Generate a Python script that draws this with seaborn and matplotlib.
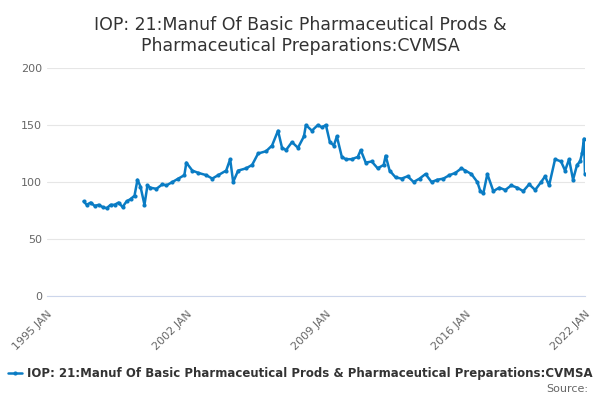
import pandas as pd
import matplotlib.pyplot as plt
import seaborn as sns

# 数据（从图中读取的近似值，时间为小数年份）
years = [1996.85, 1997.0, 1997.2, 1997.4, 1997.6, 1997.8, 1998.0, 1998.2, 1998.4, 1998.6,
         1998.8, 1999.0, 1999.2, 1999.4, 1999.55, 1999.7, 1999.9, 2000.05, 2000.2, 2000.5,
         2000.8, 2001.0, 2001.3, 2001.6, 2001.9, 2002.0, 2002.3, 2002.6, 2003.0, 2003.3,
         2003.6, 2004.0, 2004.2, 2004.35, 2004.6, 2005.0, 2005.3, 2005.6, 2006.0, 2006.3,
         2006.6, 2006.8, 2007.0, 2007.3, 2007.6, 2007.9, 2008.0, 2008.3, 2008.6, 2008.8,
         2009.0, 2009.2, 2009.4, 2009.55, 2009.8, 2010.0, 2010.3, 2010.6, 2010.75, 2011.0,
         2011.3, 2011.6, 2011.9, 2012.0, 2012.2, 2012.5, 2012.8, 2013.1, 2013.4, 2013.7,
         2014.0, 2014.3, 2014.6, 2014.9, 2015.2, 2015.5, 2015.8, 2016.0, 2016.3, 2016.6,
         2016.75, 2016.9, 2017.1, 2017.4, 2017.7, 2018.0, 2018.3, 2018.6, 2018.9, 2019.2,
         2019.5, 2019.8, 2020.0, 2020.2, 2020.5, 2020.8, 2021.0, 2021.2, 2021.4, 2021.6,
         2021.75, 2021.85, 2021.95, 2022.0]
values = [83, 80, 82, 79, 80, 78, 77, 80, 80, 82,
          78, 83, 85, 88, 102, 96, 80, 97, 95, 94,
          98, 97, 100, 103, 106, 117, 110, 108, 106, 103,
          106, 110, 120, 100, 110, 112, 115, 125, 127, 132,
          145, 130, 128, 135, 130, 140, 150, 145, 150, 148,
          150, 135, 132, 140, 122, 120, 120, 122, 128, 117,
          118, 112, 115, 123, 110, 104, 103, 105, 100, 103,
          107, 100, 102, 103, 106, 108, 112, 110, 107, 100,
          92, 90, 107, 92, 95, 93, 97, 95, 92, 98,
          93, 100, 105, 97, 120, 118, 110, 120, 102, 115,
          118, 125, 138, 107]

series_name = "IOP: 21:Manuf Of Basic Pharmaceutical Prods & Pharmaceutical Preparations:CVMSA"
tick_years = [1995, 2002, 2009, 2016, 2022]
tick_labels = [f"{y} JAN" for y in tick_years]


def to_date(y):
    yr = int(y)
    return pd.Timestamp(yr, 1, 1) + pd.Timedelta(days=(y - yr) * 365.25)


df = pd.DataFrame({"date": [to_date(y) for y in years], "value": values})

sns.set_style("white")
plt.rcParams['font.family'] = ['DejaVu Sans']

fig = plt.figure(figsize=(6, 4), dpi=100)
ax = fig.add_axes([0.078, 0.26, 0.897, 0.57])
color = "#0a7cc4"
sns.lineplot(data=df, x="date", y="value", ax=ax, color=color, lw=1.8,
             marker="o", markersize=3, markeredgewidth=0, label=series_name, legend=False)

ax.set_xlim(pd.Timestamp(1995, 1, 1), pd.Timestamp(2022, 1, 1))
ax.set_ylim(0, 200)
ax.set_yticks([0, 50, 100, 150, 200])
ax.set_xticks([pd.Timestamp(y, 1, 1) for y in tick_years])
ax.set_xticklabels(tick_labels, rotation=45, ha="right", rotation_mode="anchor")
ax.tick_params(colors="#666666", labelsize=8, length=0)
ax.set_xlabel("")
ax.set_ylabel("")
ax.grid(axis="y", color="#e6e6e6", lw=0.8)
for s in ["top", "right", "left"]:
    ax.spines[s].set_visible(False)
ax.spines["bottom"].set_color("#ccd6eb")
ax.tick_params(axis="x", length=6, color="#ccd6eb", direction="out")

fig.suptitle("IOP: 21:Manuf Of Basic Pharmaceutical Prods &\nPharmaceutical Preparations:CVMSA",
             y=0.96, fontsize=12.5, color="#333333")

handles, labels = ax.get_legend_handles_labels()
fig.legend(handles, labels, loc="center", bbox_to_anchor=(0.5, 0.065), frameon=False,
           fontsize=8.5, handlelength=1.2, handletextpad=0.4, labelcolor="#333333",
           prop={"weight": "bold", "size": 8.5})
fig.text(0.98, 0.02, "Source:", ha="right", fontsize=8, color="#666666")

fig.savefig("out.png", dpi=100)
